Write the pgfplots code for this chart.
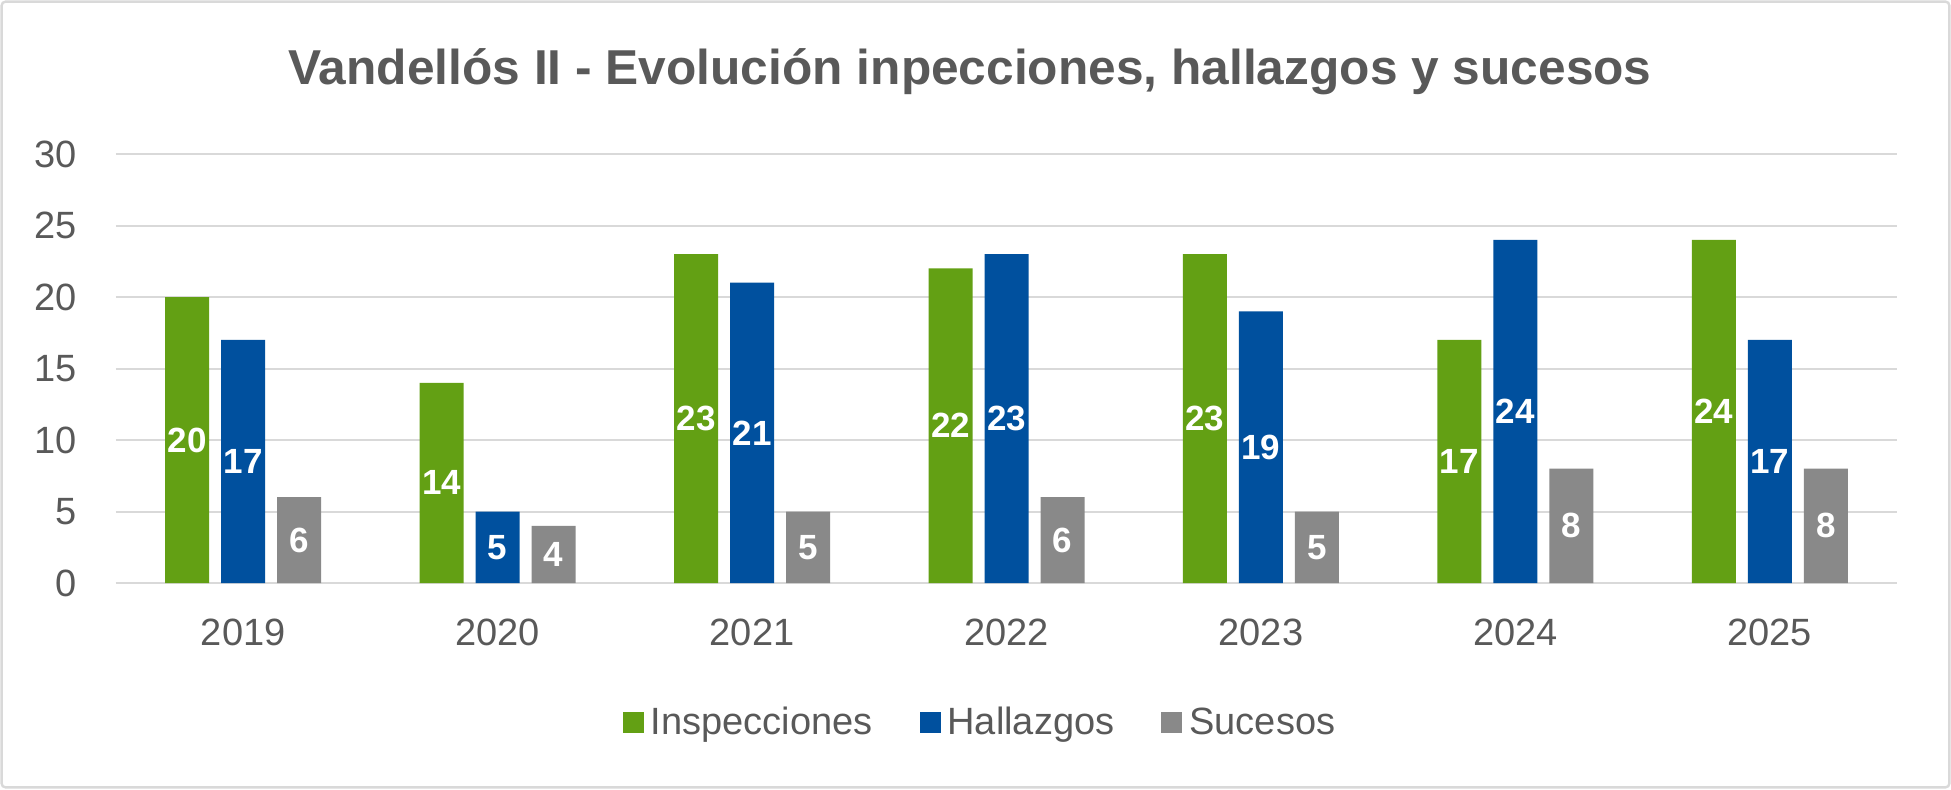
\documentclass[border=0pt]{standalone}
\usepackage{pgfplots}
\pgfplotsset{compat=1.18}
\usepackage{fontspec}
\usepackage{graphicx}
\setmainfont{Liberation Sans}
\definecolor{cgreen}{RGB}{99,160,20}
\definecolor{cblue}{RGB}{0,80,158}
\definecolor{cgray}{RGB}{137,137,137}
\definecolor{tgray}{RGB}{89,89,89}
\definecolor{lgray}{RGB}{217,217,217}
\pgfplotstableread{
x ins hal suc
0 20 17 6
1 14 5 4
2 23 21 5
3 22 23 6
4 23 19 5
5 17 24 8
6 24 17 8
}\datatable
\begin{document}
\begin{tikzpicture}
\useasboundingbox (0,0) rectangle (975.5pt,394.5pt);
\fill[white] (0,0) rectangle (975.5pt,394.5pt);
\draw[lgray, line width=1.2pt, rounded corners=2pt] (0.8pt,0.8pt) rectangle (974.7pt,393.7pt);
\node[anchor=base, text=tgray, inner sep=0pt] at (485pt,352pt)
  {\resizebox{681.5pt}{\height}{\fontsize{24.5pt}{28pt}\selectfont\bfseries Vandellós II - Evolución inpecciones, hallazgos y sucesos}};
\begin{axis}[
  at={(58pt,103pt)}, anchor=south west,
  scale only axis, width=890.5pt, height=214.5pt,
  ybar=6pt, bar width=22pt,
  xmin=-0.5, xmax=6.5, ymin=0, ymax=30,
  xtick={0,1,2,3,4,5,6},
  xticklabels={2019,2020,2021,2022,2023,2024,2025},
  ytick={0,5,10,15,20,25,30},
  /pgf/number format/assume math mode=true,
  axis y line*=left,
  y axis line style={draw=none},
  axis x line*=bottom,
  x axis line style={lgray, line width=1.3pt, -},
  ymajorgrids, grid style={lgray, line width=1pt},
  major tick length=0pt,
  tick label style={text=tgray, font=\fontsize{19pt}{22pt}\selectfont, inner sep=0pt},
  yticklabel style={anchor=east, xshift=-19.5pt},
  xticklabel style={anchor=north, yshift=-18pt},
  every axis plot post/.append style={draw=none,
    legend image code/.code={\fill[##1,draw=none] (0pt,-5.25pt) rectangle (10.5pt,5.25pt);}},
  visualization depends on=rawy \as \rawy,
  nodes near coords,
  every node near coord/.append style={anchor=center, yshift=-3.575*\rawy, text=white, inner sep=0pt,
    font=\fontsize{17.5pt}{20pt}\selectfont\bfseries},
  legend columns=-1,
  legend style={draw=none, fill=none, at={(0.4865,-0.3252)}, anchor=center,
    font=\fontsize{19pt}{22pt}\selectfont, text=tgray,
    nodes={inner xsep=3.5pt, inner ysep=0pt},
    /tikz/every odd column/.append style={column sep=0pt},
    /tikz/every even column/.append style={column sep=20pt}},
]
\addplot[fill=cgreen] table[x=x, y=ins] {\datatable};
\addplot[fill=cblue] table[x=x, y=hal] {\datatable};
\addplot[fill=cgray] table[x=x, y=suc] {\datatable};
\legend{Inspecciones, Hallazgos, Sucesos}
\end{axis}
\end{tikzpicture}
\end{document}
